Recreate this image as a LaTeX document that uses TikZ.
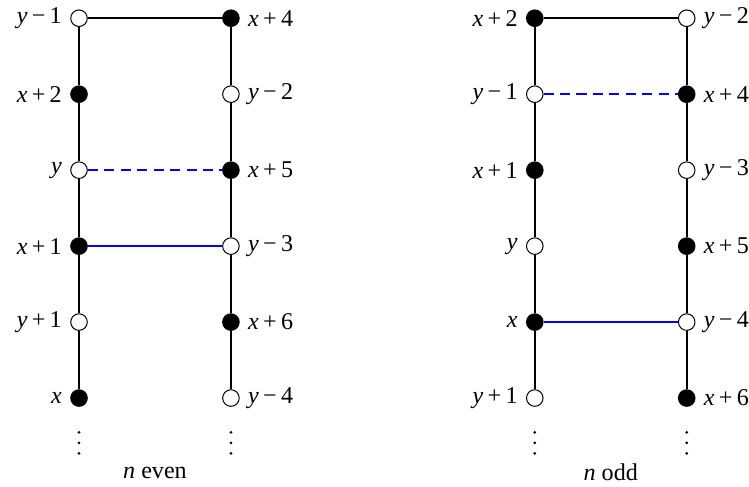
\documentclass[tikz,border=0pt,12pt]{standalone}
\usepackage{fontspec}
\setmainfont{Liberation Serif}
\usepackage{tikz}
\usetikzlibrary{positioning}
\newcommand{\vplus}{\kern0.18em+\kern0.18em}
\newcommand{\vminus}{\kern0.18em−\kern0.18em}

\begin{document}
\begin{tikzpicture}[x=1.33cm,y=1.33cm,
    wvert/.style={circle,draw=black,fill=white,inner sep=0pt,minimum size=0.29cm,line width=0.5pt},
    bvert/.style={wvert,fill=black},
    rail/.style={black,line width=0.8pt},
    rung/.style={blue,line width=0.9pt},
    dashrung/.style={rung,dash pattern=on 5pt off 3.2pt},
    lbl/.style={label distance=0pt},
    dots/.style={inner sep=0pt}]
        \useasboundingbox (-1.04,0.24) rectangle (8.82,-6.17);
        % n even: vertices
        \foreach \k/\t/\l in {0/wvert/{\textit{y}\vminus1},1/bvert/{\textit{x}\vplus2},2/wvert/\textit{y},
                              3/bvert/{\textit{x}\vplus1},4/wvert/{\textit{y}\vplus1},5/bvert/\textit{x}}
          \node[\t,lbl,label={left:\l}] (a\k) at (0,-\k) {};
        \foreach \k/\t/\l in {0/bvert/{\textit{x}\vplus4},1/wvert/{\textit{y}\vminus2},2/bvert/{\textit{x}\vplus5},
                              3/wvert/{\textit{y}\vminus3},4/bvert/{\textit{x}\vplus6},5/wvert/{\textit{y}\vminus4}}
          \node[\t,lbl,label={right:\l}] (b\k) at (2,-\k) {};
        % n odd: vertices
        \foreach \k/\t/\l in {0/bvert/{\textit{x}\vplus2},1/wvert/{\textit{y}\vminus1},2/bvert/{\textit{x}\vplus1},
                              3/wvert/\textit{y},4/bvert/\textit{x},5/wvert/{\textit{y}\vplus1}}
          \node[\t,lbl,label={left:\l}] (c\k) at (6,-\k) {};
        \foreach \k/\t/\l in {0/wvert/{\textit{y}\vminus2},1/bvert/{\textit{x}\vplus4},2/wvert/{\textit{y}\vminus3},
                              3/bvert/{\textit{x}\vplus5},4/wvert/{\textit{y}\vminus4},5/bvert/{\textit{x}\vplus6}}
          \node[\t,lbl,label={right:\l}] (d\k) at (8,-\k) {};
        % Rails
        \foreach \k/\kk in {0/1,1/2,2/3,3/4,4/5} {
          \draw[rail] (a\k) -- (a\kk);
          \draw[rail] (b\k) -- (b\kk);
          \draw[rail] (c\k) -- (c\kk);
          \draw[rail] (d\k) -- (d\kk);
        }
        % Rungs
        \draw[rail] (a0) -- (b0);
        \draw[dashrung] (a2) -- (b2);
        \draw[rung] (a3) -- (b3);
        \draw[rail] (c0) -- (d0);
        \draw[dashrung] (c1) -- (d1);
        \draw[rung] (c4) -- (d4);
        % Continuation dots
        \foreach \n/\x in {adots/0,bdots/2,cdots/6,ddots/8} {
          \coordinate (\n) at (\x,-5.59);
          \foreach \d in {-0.184,0,0.184}
            \fill ([yshift=\d cm]\n) circle (0.75pt);
        }
        % Captions
        \node[dots] (evencap) at (1,-5.98) {\textit{n} even};
        \node[dots] (oddcap) at (7,-5.98) {\textit{n} odd};
      \end{tikzpicture}
\end{document}
